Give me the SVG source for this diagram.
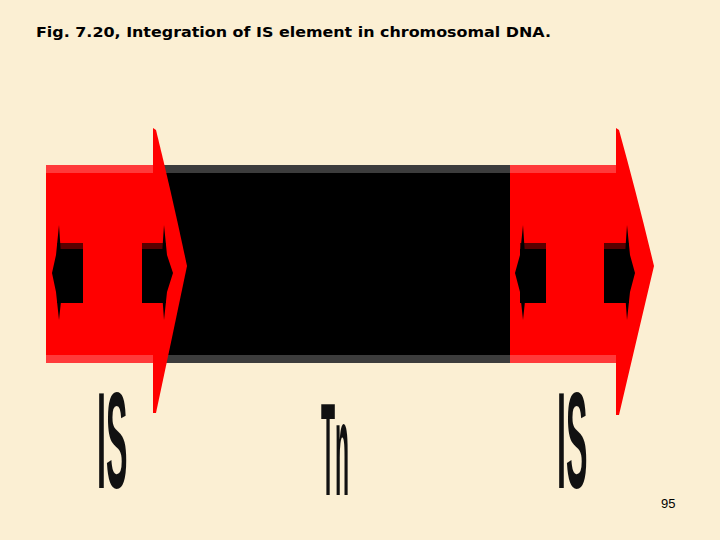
<svg xmlns="http://www.w3.org/2000/svg" width="720" height="540" viewBox="0 0 720 540">
<style>
.red{fill:#ff0000}
.band{fill:#ff3a3a}
.blk{fill:#000}
.gband{fill:#3c3c3c}
.dkband{fill:#5a0000}
.lbl{font-family:"Liberation Sans",Arial,sans-serif;font-weight:bold;fill:#111}
</style>
<rect width="720" height="540" fill="#fbefd3"/>
<text x="36" y="37" font-family="'DejaVu Sans',Verdana,sans-serif" font-weight="bold" font-size="14" textLength="515" lengthAdjust="spacingAndGlyphs" fill="#000">Fig. 7.20, Integration of IS element in chromosomal DNA.</text>

<g id="tn">
<rect class="blk" x="162" y="165" width="350" height="198"/>
<rect class="gband" x="162" y="165" width="350" height="8"/>
<rect class="gband" x="162" y="355" width="350" height="8"/>
</g>

<g id="is-left">
<rect class="red" x="46" y="165" width="110" height="198"/>
<rect class="band" x="46" y="165" width="110" height="8"/>
<rect class="band" x="46" y="355" width="110" height="8"/>
<path class="red" d="M153,128 L156,130 Q172,195 187,266 Q172,338 156,413 L153,413 Z"/>
<rect class="blk" x="57" y="243" width="26" height="60"/>
<rect class="dkband" x="57" y="243" width="26" height="6"/>
<path class="blk" d="M59,225 L61,255 L62,292 L59,320 L56,292 L52,273 L56,255 Z"/>
<rect class="blk" x="142" y="243" width="24" height="60"/>
<rect class="dkband" x="142" y="243" width="24" height="6"/>
<path class="blk" d="M164,225 L167,255 L173,273 L167,292 L164,320 L162,292 L162,255 Z"/>
</g>

<g id="is-right">
<rect class="red" x="510" y="165" width="108" height="198"/>
<rect class="band" x="510" y="165" width="108" height="8"/>
<rect class="band" x="510" y="355" width="108" height="8"/>
<path class="red" d="M616,128 L619,130 Q637,195 654,266 Q637,338 619,415 L616,415 Z"/>
<rect class="blk" x="520" y="243" width="26" height="60"/>
<rect class="dkband" x="520" y="243" width="26" height="6"/>
<path class="blk" d="M523,225 L525,255 L526,292 L523,320 L520,292 L515,273 L520,255 Z"/>
<rect class="blk" x="604" y="243" width="25" height="60"/>
<rect class="dkband" x="604" y="243" width="25" height="6"/>
<path class="blk" d="M627,225 L630,255 L635,273 L630,292 L627,320 L625,292 L625,255 Z"/>
</g>

<g id="labels">
<text class="lbl" font-size="28" transform="translate(97,488) scale(1.15,4.9)">IS</text>
<text class="lbl" font-size="20" transform="translate(321,495) scale(1.15,6.6)">Tn</text>
<text class="lbl" font-size="28" transform="translate(557,488) scale(1.15,4.9)">IS</text>
</g>

<text x="661" y="508" font-family="'Liberation Sans',Arial,sans-serif" font-size="13" fill="#000">95</text>
</svg>
